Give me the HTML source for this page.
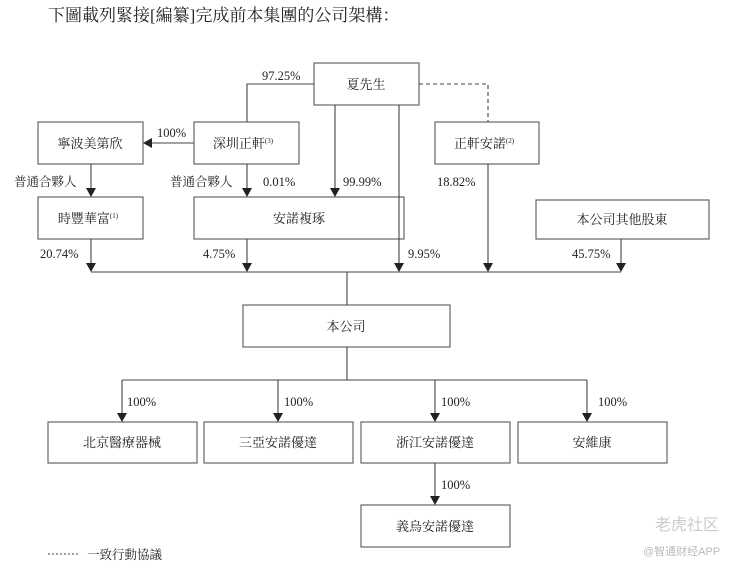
<!DOCTYPE html>
<html><head><meta charset="utf-8"><style>
body{margin:0;background:#fff;width:746px;height:568px;overflow:hidden;font-family:"Liberation Serif","Noto Serif CJK SC",serif;color:#222}
</style></head><body>
<svg width="746" height="568" xmlns="http://www.w3.org/2000/svg" style="position:absolute;left:0;top:0">
<text x="48" y="21" font-size="17" fill="#222">下圖載列緊接[編纂]完成前本集團的公司架構：</text>
<g fill="#fff" stroke="#666" stroke-width="1.2">
<rect x="314" y="63" width="105" height="42"/>
<rect x="38" y="122" width="105" height="42"/>
<rect x="194" y="122" width="105" height="42"/>
<rect x="435" y="122" width="104" height="42"/>
<rect x="38" y="197" width="105" height="42"/>
<rect x="194" y="197" width="210" height="42"/>
<rect x="536" y="200" width="173" height="39"/>
<rect x="243" y="305" width="207" height="42"/>
<rect x="48" y="422" width="149" height="41"/>
<rect x="204" y="422" width="149" height="41"/>
<rect x="361" y="422" width="149" height="41"/>
<rect x="518" y="422" width="149" height="41"/>
<rect x="361" y="505" width="149" height="42"/>
</g>
<g stroke="#444" stroke-width="1.1" fill="none">
<polyline points="314,84 247,84 247,122"/>
<line x1="194" y1="143" x2="150" y2="143"/>
<line x1="91" y1="164" x2="91" y2="190"/>
<line x1="247" y1="164" x2="247" y2="190"/>
<line x1="335" y1="105" x2="335" y2="190"/>
<line x1="399" y1="105" x2="399" y2="265"/>
<polyline points="419,84 488,84 488,122" stroke-dasharray="4,3"/>
<line x1="488" y1="164" x2="488" y2="265"/>
<line x1="91" y1="239" x2="91" y2="265"/>
<line x1="247" y1="239" x2="247" y2="265"/>
<line x1="621" y1="239" x2="621" y2="265"/>
<line x1="91" y1="272" x2="621" y2="272"/>
<line x1="347" y1="272" x2="347" y2="305"/>
<line x1="347" y1="347" x2="347" y2="380"/>
<line x1="122" y1="380" x2="587" y2="380"/>
<line x1="122" y1="380" x2="122" y2="415"/>
<line x1="278" y1="380" x2="278" y2="415"/>
<line x1="435" y1="380" x2="435" y2="415"/>
<line x1="587" y1="380" x2="587" y2="415"/>
<line x1="435" y1="463" x2="435" y2="498"/>
<line x1="48" y1="554" x2="78" y2="554" stroke-dasharray="2,2"/>
</g>
<g fill="#222">
<polygon points="143,143 152,138 152,148"/>
<polygon points="86,188 96,188 91,197"/>
<polygon points="242,188 252,188 247,197"/>
<polygon points="330,188 340,188 335,197"/>
<polygon points="86,263 96,263 91,272"/>
<polygon points="242,263 252,263 247,272"/>
<polygon points="394,263 404,263 399,272"/>
<polygon points="483,263 493,263 488,272"/>
<polygon points="616,263 626,263 621,272"/>
<polygon points="117,413 127,413 122,422"/>
<polygon points="273,413 283,413 278,422"/>
<polygon points="430,413 440,413 435,422"/>
<polygon points="582,413 592,413 587,422"/>
<polygon points="430,496 440,496 435,505"/>
</g>
<g font-size="13" fill="#222" text-anchor="middle">
<text x="366" y="89">夏先生</text>
<text x="90" y="148">寧波美第欣</text>
<text x="243" y="148">深圳正軒<tspan font-size="7" dy="-5">(3)</tspan></text>
<text x="484" y="148">正軒安諾<tspan font-size="7" dy="-5">(2)</tspan></text>
<text x="88" y="223">時豐華富<tspan font-size="7" dy="-5">(1)</tspan></text>
<text x="299" y="223">安諾複琢</text>
<text x="622" y="224">本公司其他股東</text>
<text x="346" y="331">本公司</text>
<text x="122" y="447">北京醫療器械</text>
<text x="278" y="447">三亞安諾優達</text>
<text x="435" y="447">浙江安諾優達</text>
<text x="592" y="447">安維康</text>
<text x="435" y="531">義烏安諾優達</text>
</g>
<g font-size="12.5" fill="#222">
<text x="262" y="80">97.25%</text>
<text x="157" y="137">100%</text>
<text x="14" y="186">普通合夥人</text>
<text x="170" y="186">普通合夥人</text>
<text x="263" y="186">0.01%</text>
<text x="343" y="186">99.99%</text>
<text x="437" y="186">18.82%</text>
<text x="40" y="258">20.74%</text>
<text x="203" y="258">4.75%</text>
<text x="408" y="258">9.95%</text>
<text x="572" y="258">45.75%</text>
<text x="127" y="406">100%</text>
<text x="284" y="406">100%</text>
<text x="441" y="406">100%</text>
<text x="598" y="406">100%</text>
<text x="441" y="489">100%</text>
<text x="87" y="559">一致行動協議</text>
</g>
<text x="655" y="530" font-size="16" fill="#ccc" font-family="Liberation Sans,Noto Sans CJK SC,sans-serif">老虎社区</text>
<text x="643" y="555" font-size="11" fill="#bbb" font-family="Liberation Sans,Noto Sans CJK SC,sans-serif">@智通财经APP</text>
</svg>
</body></html>
